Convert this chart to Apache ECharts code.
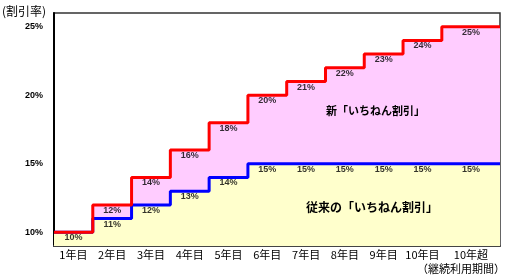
<!DOCTYPE html>
<html>
<head>
<meta charset="utf-8">
<script src="https://cdn.jsdelivr.net/npm/echarts@6/dist/echarts.min.js"></script>
<style>html,body{margin:0;padding:0;background:#fff;}#c{width:510px;height:280px;}</style>
</head>
<body>
<div id="c"></div>
<script>
// ---- data ----
var periods = ['1年目','2年目','3年目','4年目','5年目','6年目','7年目','8年目','9年目','10年目','10年超'];
var periodBounds = [0,1,2,3,4,5,6,7,8,9,10,11.5];
var newRates = [10,12,14,16,18,20,21,22,23,24,25];
var oldRates = [10,11,12,13,14,15,15,15,15,15,15];
var yTicks = [10,15,20,25];

function stepData(vals){
  var d = vals.map(function(v,i){ return [periodBounds[i], v]; });
  d.push([periodBounds[periodBounds.length-1], vals[vals.length-1]]);
  return d;
}
var centers = periods.map(function(p,i){ return (periodBounds[i]+periodBounds[i+1])/2; });
function labelData(vals, skipSame){
  var out = [];
  vals.forEach(function(v,i){
    if (skipSame && v === oldRates[i]) return;
    out.push([centers[i], v]);
  });
  return out;
}
var font = 'Liberation Sans, Arial, sans-serif';
var cjk = '"Noto Sans CJK JP", sans-serif';

var chart = echarts.init(document.getElementById('c'));
var lblStyle = {show:true, position:'bottom', distance:1, color:'#000', fontSize:9, fontWeight:'bold', fontFamily:font,
  formatter:function(p){return p.value[1]+'%';}};
chart.setOption({
  animation:false,
  grid:{left:54, right:10, top:13, bottom:34, show:true, borderColor:'#333', borderWidth:1.5, backgroundColor:'#fff'},
  xAxis:{type:'value', min:0, max:periodBounds[periodBounds.length-1],
    splitLine:{show:false},
    axisLine:{show:true, lineStyle:{color:'#444', width:2}},
    axisTick:{show:false},
    axisLabel:{customValues:centers, margin:3, color:'#000', fontSize:11, fontFamily:cjk,
      formatter:function(v){
        for (var i=0;i<centers.length;i++) if (Math.abs(centers[i]-v)<1e-6) return periods[i];
        return '';
      }}
  },
  yAxis:{type:'value', min:9, max:26,
    splitLine:{show:false},
    axisLine:{show:true, lineStyle:{color:'#000', width:2}},
    axisTick:{show:false},
    axisLabel:{customValues:yTicks, margin:11, color:'#000', fontSize:9, fontWeight:'bold', fontFamily:font,
      formatter:function(v){return v+'%';}}
  },
  series:[
    {type:'line', step:'end', data:stepData(newRates), symbol:'none', silent:true,
      lineStyle:{width:0}, areaStyle:{color:'#FFCCFF', origin:'start', opacity:1}, z:1},
    {type:'line', step:'end', data:stepData(oldRates), symbol:'none', silent:true,
      lineStyle:{width:0}, areaStyle:{color:'#FFFFCC', origin:'start', opacity:1}, z:2},
    {type:'line', step:'end', data:stepData(oldRates), symbol:'none', silent:true,
      lineStyle:{width:3, color:'#0000FF'}, z:3},
    {type:'line', step:'end', data:stepData(newRates), symbol:'none', silent:true,
      lineStyle:{width:3, color:'#FF0000'}, z:4},
    {type:'scatter', data:labelData(newRates, true), symbolSize:0, silent:true, label:lblStyle, z:5},
    {type:'scatter', data:labelData(oldRates, false), symbolSize:0, silent:true, label:lblStyle, z:5}
  ],
  graphic:[
    {type:'text', left:2, top:5, style:{text:'(割引率)', font:'12px '+cjk, fill:'#000'}},
    {type:'text', right:5, top:263, style:{text:'（継続利用期間）', font:'11px '+cjk, fill:'#000'}},
    {type:'text', left:326, top:105, z:10, style:{text:'新「いちねん割引」', font:'bold 11px '+cjk, fill:'#000'}},
    {type:'text', left:306, top:201, z:10, style:{text:'従来の「いちねん割引」', font:'bold 12px '+cjk, fill:'#000'}}
  ]
});
</script>
</body>
</html>
